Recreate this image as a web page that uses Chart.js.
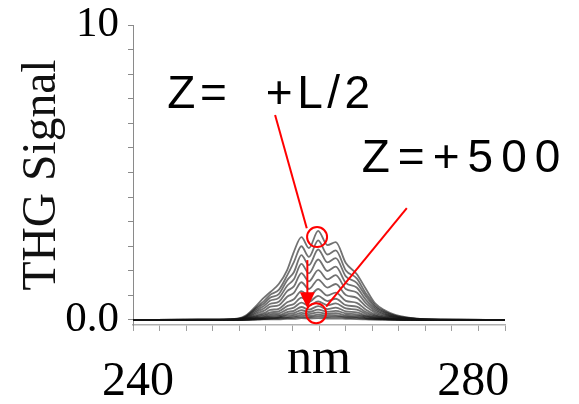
<!DOCTYPE html>
<html>
<head>
<meta charset="utf-8">
<script src="https://cdn.jsdelivr.net/npm/chart.js@4.4.1/dist/chart.umd.min.js"></script>
<style>
  html, body { margin: 0; padding: 0; background: #fff; }
  #wrap { width: 579px; height: 404px; }
</style>
</head>
<body>
<div id="wrap"><canvas id="thg" width="579" height="404"></canvas></div>
<script>
// wavelength grid (nm), shared by every spectrum
const wavelengths = [239.4, 247.4, 251.0, 252.8, 254.3, 255.0, 255.8, 256.8, 257.8, 258.6, 259.5, 260.4,
  261.5, 262.6, 263.6, 264.8, 266.1, 267.2, 268.3, 269.5, 270.7, 272.5, 276.1, 283.8];

// THG spectra, one per z position (largest first)
const scan01 = [0, 0.01, 0.02, 0.14, 0.54, 0.75, 0.95, 1.22, 1.69, 2.31, 2.81, 2.44, 3.02, 2.54, 2.64, 1.93, 1.56, 1.05, 0.56, 0.32, 0.17, 0.07, 0.01, 0];
const scan02 = [0, 0.01, 0.02, 0.12, 0.47, 0.63, 0.86, 1.02, 1.51, 1.96, 2.50, 2.14, 2.70, 2.22, 2.36, 1.68, 1.41, 0.90, 0.49, 0.28, 0.15, 0.06, 0.01, 0];
const scan03 = [0, 0.01, 0.02, 0.10, 0.42, 0.55, 0.76, 0.88, 1.35, 1.62, 2.20, 1.86, 2.39, 1.95, 2.10, 1.48, 1.26, 0.80, 0.43, 0.25, 0.13, 0.05, 0.01, 0];
const scan04 = [0, 0.01, 0.01, 0.09, 0.36, 0.47, 0.66, 0.75, 1.16, 1.38, 1.90, 1.58, 2.05, 1.66, 1.81, 1.26, 1.10, 0.68, 0.37, 0.21, 0.11, 0.05, 0.01, 0];
const scan05 = [0, 0.01, 0.01, 0.07, 0.30, 0.39, 0.55, 0.62, 0.98, 1.14, 1.59, 1.31, 1.69, 1.38, 1.52, 1.05, 0.93, 0.57, 0.31, 0.18, 0.09, 0.04, 0.01, 0];
const scan06 = [0, 0.00, 0.01, 0.06, 0.24, 0.31, 0.45, 0.50, 0.79, 0.92, 1.28, 1.05, 1.37, 1.10, 1.22, 0.85, 0.75, 0.46, 0.25, 0.14, 0.08, 0.03, 0.00, 0];
const scan07 = [0, 0.00, 0.01, 0.05, 0.18, 0.23, 0.34, 0.38, 0.60, 0.70, 0.98, 0.80, 1.05, 0.83, 0.93, 0.65, 0.58, 0.35, 0.19, 0.11, 0.06, 0.02, 0.00, 0];
const scan08 = [0, 0.00, 0.01, 0.04, 0.14, 0.18, 0.26, 0.29, 0.47, 0.54, 0.76, 0.62, 0.82, 0.64, 0.72, 0.50, 0.45, 0.27, 0.15, 0.08, 0.04, 0.02, 0.00, 0];
const scan09 = [0, 0.00, 0.00, 0.03, 0.11, 0.14, 0.20, 0.22, 0.36, 0.42, 0.59, 0.48, 0.63, 0.50, 0.56, 0.39, 0.35, 0.21, 0.12, 0.07, 0.03, 0.01, 0.00, 0];
const scan10 = [0, 0.00, 0.00, 0.02, 0.08, 0.10, 0.15, 0.16, 0.27, 0.31, 0.44, 0.35, 0.47, 0.37, 0.42, 0.29, 0.26, 0.15, 0.09, 0.05, 0.03, 0.01, 0.00, 0];
const scan11 = [0, 0.00, 0.00, 0.02, 0.06, 0.08, 0.11, 0.12, 0.20, 0.23, 0.33, 0.27, 0.35, 0.28, 0.31, 0.22, 0.19, 0.12, 0.07, 0.04, 0.02, 0.01, 0.00, 0];
const scan12 = [0, 0.00, 0.00, 0.01, 0.05, 0.06, 0.08, 0.09, 0.15, 0.17, 0.24, 0.20, 0.26, 0.21, 0.23, 0.16, 0.14, 0.09, 0.05, 0.03, 0.02, 0.01, 0.00, 0];
const scan13 = [0, 0.00, 0.00, 0.01, 0.03, 0.04, 0.06, 0.07, 0.10, 0.12, 0.17, 0.14, 0.18, 0.15, 0.16, 0.11, 0.10, 0.06, 0.04, 0.02, 0.01, 0.00, 0.00, 0];
const scan14 = [0, 0.00, 0.00, 0.01, 0.02, 0.03, 0.04, 0.05, 0.07, 0.08, 0.11, 0.09, 0.12, 0.10, 0.11, 0.08, 0.07, 0.04, 0.02, 0.01, 0.01, 0.00, 0.00, 0];
const scan15 = [0, 0.00, 0.00, 0.00, 0.01, 0.02, 0.02, 0.02, 0.04, 0.04, 0.06, 0.05, 0.06, 0.05, 0.05, 0.04, 0.03, 0.02, 0.01, 0.01, 0.00, 0.00, 0.00, 0];

const spectra = [scan01, scan02, scan03, scan04, scan05, scan06, scan07, scan08,
  scan09, scan10, scan11, scan12, scan13, scan14, scan15];

// axis labels
const xLabelValues = [240, 280];
const yLabelValues = [0, 10];
const yLabelText = ['0.0', '10'];

// red callouts: circles, arrow, leader lines and z labels (data units)
const redMarks = {
  id: 'redMarks',
  afterDatasetsDraw(chart) {
    const { ctx, scales: { x, y } } = chart;
    const P = (a, b) => [x.getPixelForValue(a), y.getPixelForValue(b)];
    ctx.save();
    ctx.strokeStyle = '#ff0000';
    ctx.fillStyle = '#ff0000';
    ctx.lineWidth = 2;

    const line = (a, b) => {
      ctx.beginPath();
      ctx.moveTo(...a);
      ctx.lineTo(...b);
      ctx.stroke();
    };
    line(P(256.36, 6.95), P(260.14, 3.11));
    line(P(262.45, 0.45), P(272.08, 3.79));

    [[261.37, 2.81], [261.25, 0.23]].forEach(([a, b]) => {
      const [cx, cy] = P(a, b);
      ctx.beginPath();
      ctx.arc(cx, cy, 10, 0, Math.PI * 2);
      ctx.stroke();
    });

    // downward arrow between the two circles
    const [ax, ay] = P(260.21, 2.03);
    const [, tipY] = P(260.21, 0.40);
    line([ax, ay], [ax, tipY - 14]);
    ctx.beginPath();
    ctx.moveTo(ax - 7.5, tipY - 16);
    ctx.lineTo(ax + 7.5, tipY - 16);
    ctx.lineTo(ax, tipY);
    ctx.closePath();
    ctx.fill();

    ctx.font = '46px "Liberation Sans", Arial, sans-serif';
    ctx.textBaseline = 'alphabetic';
    ctx.textAlign = 'left';
    ctx.fillStyle = '#000';
    ctx.letterSpacing = '4.5px';
    ctx.fillText('Z=  +L/2', ...P(243.5, 7.19));
    ctx.letterSpacing = '8px';
    ctx.fillText('Z=+500', ...P(266.7, 5.02));
    ctx.restore();
  }
};

const serif = '"Liberation Serif", "Times New Roman", serif';

new Chart(document.getElementById('thg'), {
  type: 'line',
  data: {
    labels: wavelengths,
    datasets: spectra.map(s => ({
      data: s.map((v, i) => ({ x: wavelengths[i], y: v })),
      borderColor: 'rgba(20,20,20,0.6)',
      borderWidth: 1.8,
      pointRadius: 0,
      fill: false,
      cubicInterpolationMode: 'monotone'
    }))
  },
  options: {
    responsive: false,
    animation: false,
    layout: { padding: { left: 0, top: 25, right: 74, bottom: 0 } },
    plugins: { legend: { display: false }, tooltip: { enabled: false } },
    scales: {
      x: {
        type: 'linear',
        min: 239.4,
        max: 283.8,
        afterFit: s => { s.height = 79; s.paddingLeft = 0; s.paddingRight = 0; },
        afterBuildTicks: s => {
          const marks = [];
          for (let i = 0; i <= 14; i++) marks.push(s.min + (s.max - s.min) * i / 14);
          xLabelValues.forEach(v => marks.push(v));
          marks.sort((a, b) => a - b);
          s.ticks = marks.map(v => ({ value: v }));
        },
        border: { display: true, color: '#b0b0b0', width: 1.5 },
        grid: {
          drawOnChartArea: false,
          drawTicks: true,
          tickLength: 6,
          tickWidth: 1,
          tickColor: c => (c.tick && xLabelValues.includes(c.tick.value)) ? 'rgba(0,0,0,0)' : '#a0a0a0'
        },
        ticks: {
          autoSkip: false,
          maxRotation: 0,
          minRotation: 0,
          padding: 23,
          color: '#000',
          font: { family: serif, size: 48 },
          callback: v => xLabelValues.includes(v) ? String(v) : ''
        },
        title: {
          display: true,
          text: 'nm',
          color: '#000',
          font: { family: serif, size: 50 },
          padding: { top: 0, bottom: 14 }
        }
      },
      y: {
        min: -0.17,
        max: 10,
        // keep the plot area fixed; the big tick labels may spill into the margin
        afterFit: s => { s.width = 133; s.paddingTop = 0; s.paddingBottom = 0; },
        afterBuildTicks: s => {
          const marks = [];
          for (let i = 0; i <= 12; i++) marks.push(i * 10 / 12);
          s.ticks = marks.map(v => ({ value: v }));
        },
        border: { display: true, color: '#8a8a8a', width: 1 },
        grid: {
          drawOnChartArea: false,
          drawTicks: true,
          tickLength: 5,
          tickColor: '#8a8a8a'
        },
        ticks: {
          autoSkip: false,
          padding: 9,
          color: '#000',
          font: { family: serif, size: 43 },
          callback: v => {
            const k = yLabelValues.indexOf(v);
            return k >= 0 ? yLabelText[k] : '';
          }
        },
        title: {
          display: true,
          text: 'THG Signal',
          color: '#111',
          font: { family: serif, size: 47.5 },
          padding: { top: 14, bottom: 0 }
        }
      }
    }
  },
  plugins: [redMarks]
});
</script>
</body>
</html>
